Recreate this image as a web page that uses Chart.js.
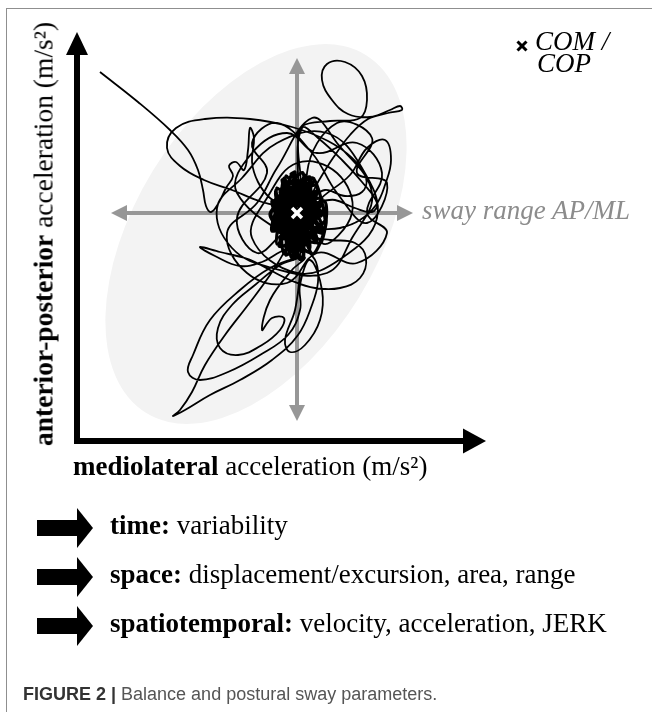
<!DOCTYPE html>
<html>
<head>
<meta charset="utf-8">
<script src="https://cdn.jsdelivr.net/npm/chart.js@4.4.1/dist/chart.umd.min.js"></script>
<style>
	html, body { margin: 0; padding: 0; background: #fff; }
	#wrap { position: relative; width: 652px; height: 712px; overflow: hidden; }
	#sway-chart { position: absolute; left: 0; top: 0; }
	.frame { position: absolute; left: 6px; top: 8px; width: 700px; height: 760px; border-left: 1.5px solid #8f8f8f; border-top: 1.5px solid #8f8f8f; }
	.lbl { position: absolute; white-space: nowrap; font-family: 'Liberation Serif', 'Times New Roman', serif; font-size: 27px; line-height: 27px; color: #000; }
	.it { font-style: italic; }
	.grey { color: #8c8c8c; }
	.vlabel { left: 43px; top: 234px; font-size: 27.5px; transform: translate(-50%, -50%) rotate(-90deg); }
	.cap { position: absolute; white-space: nowrap; font-family: 'Liberation Sans', Arial, sans-serif; font-size: 18px; line-height: 18px; color: #555; left: 23px; top: 685px; }
	.cap b { color: #333; }
</style>
</head>
<body>
<div id="wrap">
	<div class="frame"></div>
	<canvas id="sway-chart" width="652" height="712"></canvas>
	<div class="lbl vlabel"><b>anterior-posterior</b> acceleration (m/s²)</div>
	<div class="lbl" style="left:73px; top:453px;"><b>mediolateral</b> acceleration (m/s²)</div>
	<div class="lbl it" style="left:535px; top:28px;">COM /</div>
	<div class="lbl it" style="left:537px; top:50px;">COP</div>
	<div class="lbl it grey" style="left:422px; top:197px;">sway range AP/ML</div>
	<div class="lbl" style="left:110px; top:512px;"><b>time:</b> variability</div>
	<div class="lbl" style="left:110px; top:561px;"><b>space:</b> displacement/excursion, area, range</div>
	<div class="lbl" style="left:110px; top:610px;"><b>spatiotemporal:</b> velocity, acceleration, JERK</div>
	<div class="cap"><b>FIGURE 2 |</b> Balance and postural sway parameters.</div>
</div>
<script>
// sway trace, [mediolateral, anterior-posterior], COM at 0/0 (arbitrary units)
var tail = [[-197,141],[-159,111],[-127,83],[-109,63],[-99,43],[-94,23],[-91,7],[-86,1],[-79,9],[-71,25],[-64,37],[-68,47],[-61,51],[-53,43],[-49,63],[-47,85],[-43,75],[-45,51],[-39,31],[-27,15],[-12,7]];
var upperLoop = [[-35,11],[-65,23],[-93,33],[-117,47],[-130,65],[-121,85],[-92,94],[-47,94],[-5,86],[31,72],[55,55],[69,35],[65,21],[48,17],[28,23],[8,13]];
var topRight = [[3,43],[1,73],[5,87],[33,92],[63,95],[70,113],[65,137],[48,151],[30,149],[25,133],[35,113],[51,99],[73,96],[93,103],[103,107],[105,103],[91,100],[71,94],[53,78],[36,55],[21,31],[8,8]];
var diagonal = [[1,38],[5,85],[21,75],[45,53],[65,31],[80,10],[75,1],[58,5],[38,13]];
var rightLobe = [[23,13],[53,38],[70,65],[88,73],[94,53],[88,28],[79,8],[63,-7],[43,-15],[21,-17]];
var lowerRight = [[3,-22],[33,-27],[58,-30],[69,-45],[63,-65],[43,-75],[18,-75],[-7,-67],[-27,-57],[-42,-49]];
var needle = [[-52,-45],[-77,-39],[-97,-34],[-82,-43],[-57,-53],[-35,-49],[-17,-39]];
var lowerLoopA = [[-12,-37],[-27,-62],[-49,-92],[-72,-122],[-92,-152],[-105,-179],[-117,-197],[-124,-203],[-112,-197],[-87,-182],[-57,-167],[-25,-147],[1,-122],[15,-92],[21,-69],[19,-49],[9,-37]];
var midLoops = [[-60,20],[-45,60],[-10,80],[20,60],[60,70],[85,40],[70,0],[90,-20],[60,-50],[20,-40],[-10,-70],[-50,-60],[-70,-20],[-40,10],[-20,45],[15,95],[40,70],[75,20],[55,-25],[30,-60],[-25,-55],[-65,-35],[-80,5],[-55,35],[-20,70],[30,80],[65,45],[80,-5],[45,-45],[0,-60],[-45,-25],[-30,15],[0,50],[40,40],[55,0],[25,-30]];
var upperMid = [[10,40],[40,90],[75,75],[60,40],[90,30],[70,-10],[40,20],[15,60],[-20,90],[-45,70],[-30,40],[-60,-5],[-40,-40],[-10,-20]];
var lowerLoopB = [[3,-42],[-17,-52],[-42,-72],[-65,-92],[-79,-115],[-77,-135],[-59,-142],[-35,-132],[-17,-117],[-13,-105],[-25,-105],[-35,-117],[-27,-87],[-5,-57],[8,-45]];
var lowerLoopC = [[-1,-45],[-27,-55],[-57,-77],[-87,-107],[-104,-142],[-109,-159],[-97,-167],[-69,-159],[-37,-142],[-9,-122],[3,-97],[3,-72]];
var downLoop = [[13,-47],[25,-77],[23,-107],[8,-132],[-7,-139],[-12,-127],[-2,-97],[3,-62]];
// dense scribble around the COM
var core1 = [[22,25],[-20,-31],[-4,40],[6,-46],[-25,12],[27,-18],[15,35],[-13,-41],[-13,35],[15,-41],[28,-3],[-26,-3],[6,40],[-4,-46],[-20,25],[22,-31],[27,12],[-25,-18],[-2,41],[-6,-44],[20,27],[-27,-1],[13,-39],[-15,33],[26,-20],[-23,10],[17,34],[-18,-33],[29,-5],[-21,23],[4,-47],[8,38],[-11,-42],[25,14],[-24,-5],[20,-29],[-11,37],[-2,-45],[13,36],[-23,-16],[25,-16],[-6,39]];
var core2 = [[24,-3],[-21,10],[19,-27],[-11,29],[5,-39],[13,29],[-17,-27],[23,10],[-21,-16],[23,-16],[-17,21],[13,-35],[-3,33],[-3,-39],[19,21],[-22,-3],[5,33],[-11,-35],[22,-1],[-19,-14],[11,27],[-1,-37],[-9,27],[17,-25],[-19,12],[21,8],[-15,-25],[7,31],[3,-37],[-15,19],[21,-14],[-20,-1],[17,19],[-9,-33],[-1,31],[11,-33]];

var comPoint = [0, 0];
var swayRangeML = [-186, 116];
var swayRangeAP = [-208, 155];
// area ellipse: centre, semi-axes, tilt (deg)
var ellipseCentre = [-41, -21];
var ellipseAxes = [210, 121];
var ellipseTilt = 58.5;
var axisML = [-220, 189];
var axisAP = [-228, 181];

(function () {
	'use strict';

	function toPoints(list) {
		var out = [];
		list.forEach(function (seg) {
			seg.forEach(function (p) {
				out.push({ x: p[0], y: p[1] });
			});
		});
		return out;
	}

	var trace = toPoints([tail, upperLoop, topRight, diagonal, rightLobe, lowerRight, needle, lowerLoopA, midLoops, upperMid, lowerLoopB, lowerLoopC, downLoop]);
	var core = toPoints([core1, core2]);

	function head(ctx, tx, ty, dx, dy, len, half) {
		var bx = tx - dx * len;
		var by = ty - dy * len;
		ctx.beginPath();
		ctx.moveTo(tx, ty);
		ctx.lineTo(bx - dy * half, by + dx * half);
		ctx.lineTo(bx + dy * half, by - dx * half);
		ctx.closePath();
		ctx.fill();
	}

	function line(ctx, x1, y1, x2, y2) {
		ctx.beginPath();
		ctx.moveTo(x1, y1);
		ctx.lineTo(x2, y2);
		ctx.stroke();
	}

	var decor = {
		id: 'swayDecor',
		beforeDatasetsDraw: function (chart) {
			var ctx = chart.ctx;
			var sx = chart.scales.x;
			var sy = chart.scales.y;

			// grey area ellipse
			var ex = sx.getPixelForValue(ellipseCentre[0]);
			var ey = sy.getPixelForValue(ellipseCentre[1]);
			var rx = Math.abs(sx.getPixelForValue(ellipseAxes[0]) - sx.getPixelForValue(0));
			var ry = Math.abs(sy.getPixelForValue(ellipseAxes[1]) - sy.getPixelForValue(0));
			ctx.save();
			ctx.fillStyle = '#f3f3f3';
			ctx.beginPath();
			ctx.ellipse(ex, ey, rx, ry, -ellipseTilt * Math.PI / 180, 0, Math.PI * 2);
			ctx.fill();

			// sway range cross
			var cx = sx.getPixelForValue(comPoint[0]);
			var cy = sy.getPixelForValue(comPoint[1]);
			var l = sx.getPixelForValue(swayRangeML[0]);
			var r = sx.getPixelForValue(swayRangeML[1]);
			var t = sy.getPixelForValue(swayRangeAP[1]);
			var b = sy.getPixelForValue(swayRangeAP[0]);
			ctx.strokeStyle = '#979797';
			ctx.fillStyle = '#979797';
			ctx.lineWidth = 4;
			line(ctx, l + 10, cy, r - 10, cy);
			line(ctx, cx, t + 10, cx, b - 10);
			head(ctx, l, cy, -1, 0, 16, 8);
			head(ctx, r, cy, 1, 0, 16, 8);
			head(ctx, cx, t, 0, -1, 16, 8);
			head(ctx, cx, b, 0, 1, 16, 8);
			ctx.restore();
		},
		afterDraw: function (chart) {
			var ctx = chart.ctx;
			var a = chart.chartArea;
			ctx.save();
			ctx.strokeStyle = '#000';
			ctx.fillStyle = '#000';
			ctx.lineWidth = 6;
			// axes
			line(ctx, a.left, a.bottom + 3, a.left, a.top + 20);
			line(ctx, a.left - 3, a.bottom, a.right - 20, a.bottom);
			head(ctx, a.left, a.top, 0, -1, 23, 11);
			head(ctx, a.right, a.bottom, 1, 0, 23, 12.5);

			// list arrows
			[528, 577, 626].forEach(function (y) {
				ctx.fillRect(37, y - 8, 42, 16);
				head(ctx, 93, y, 1, 0, 16, 20);
			});

			// legend cross
			ctx.lineWidth = 3;
			line(ctx, 517.5, 41.5, 526.5, 50.5);
			line(ctx, 526.5, 41.5, 517.5, 50.5);
			ctx.restore();
		}
	};

	var ctx = document.getElementById('sway-chart');
	new Chart(ctx, {
		type: 'scatter',
		data: {
			datasets: [{
				label: 'COM / COP',
				data: [{ x: comPoint[0], y: comPoint[1] }],
				pointStyle: 'crossRot',
				pointRadius: 7,
				borderColor: '#fff',
				borderWidth: 3.5,
				showLine: false,
				order: 0
			}, {
				label: 'sway core',
				data: core,
				showLine: true,
				borderColor: '#000',
				borderWidth: 3.2,
				borderJoinStyle: 'round',
				pointRadius: 0,
				tension: 0.3,
				fill: false,
				order: 1
			}, {
				label: 'sway',
				data: trace,
				showLine: true,
				borderColor: '#000',
				borderWidth: 1.8,
				borderJoinStyle: 'round',
				pointRadius: 0,
				tension: 0.4,
				fill: false,
				order: 2
			}]
		},
		options: {
			responsive: false,
			animation: false,
			devicePixelRatio: 1,
			events: [],
			layout: {
				padding: { left: 77, top: 32, right: 166, bottom: 271 }
			},
			plugins: {
				legend: { display: false },
				tooltip: { enabled: false }
			},
			scales: {
				x: { type: 'linear', min: axisML[0], max: axisML[1], display: false },
				y: { type: 'linear', min: axisAP[0], max: axisAP[1], display: false }
			}
		},
		plugins: [decor]
	});
})();
</script>
</body>
</html>
